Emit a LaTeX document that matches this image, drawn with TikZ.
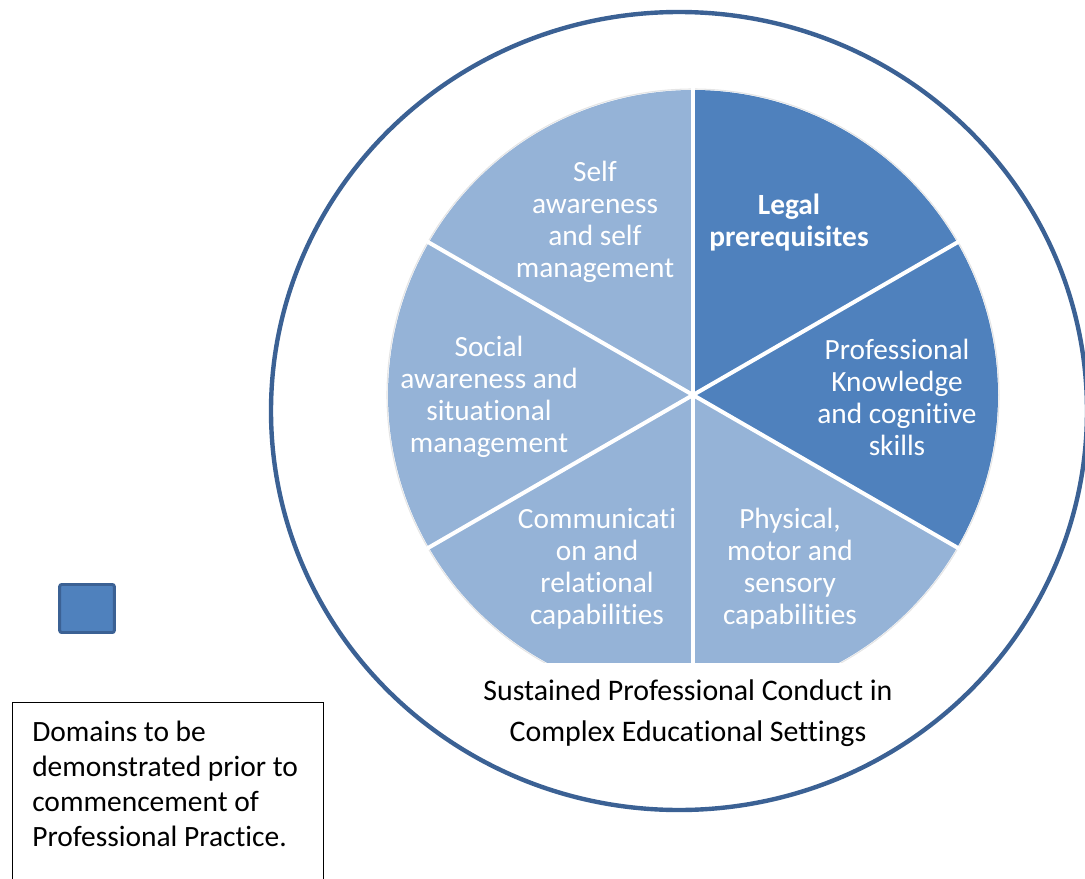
\documentclass[tikz,border=0pt]{standalone}
\usepackage{fontspec}
\setmainfont[Ligatures=NoCommon, RawFeature=-calt, RawFeature=-clig, RawFeature=-liga]{Carlito}
\usetikzlibrary{positioning}

\definecolor{darkseg}{HTML}{4F81BD}
\definecolor{lightseg}{HTML}{95B3D7}
\definecolor{ringblue}{HTML}{3B6194}
\newcommand{\segfont}{\fontsize{22}{24}\selectfont}
\newcommand{\notefont}{\fontsize{22.1}{26.2}\selectfont}

\begin{document}
\begin{tikzpicture}[x=0.75pt, y=-0.75pt,
	seglabel/.style={text=white, align=center, inner sep=0pt, font=\segfont},
	keybox/.style={draw=ringblue, fill=darkseg, line width=2.2pt, rounded corners=1.5pt,
		minimum width=41pt, minimum height=36pt}]
	\useasboundingbox (0,0) rectangle (1085,878);

	% outer ring
	\draw[ringblue, line width=3.3pt] (679,411) ellipse [x radius=408, y radius=399];

	% pie of six domains, cut off at the bottom
	\coordinate (hub) at (693,395);
	\begin{scope}
		\clip (370,70) rectangle (1020,662);
		\foreach \a/\c in {-90/darkseg, -30/darkseg, 30/lightseg, 90/lightseg, 150/lightseg, 210/lightseg}
			\fill[\c] (hub) -- +(\a:305) arc[start angle=\a, end angle=\a+60, radius=305] -- cycle;
		\draw[gray!20, line width=0.8pt] (hub) circle[radius=306];
		\foreach \a in {-90,-30,30,90,150,210}
			\draw[white, line width=3pt] (hub) -- +(\a:307);
	\end{scope}

	\node[seglabel] (self) at (595,222) {Self\\awareness\\and self\\management};
	\node[seglabel, font=\segfont\bfseries] (legal) at (789,223) {Legal\\prerequisites};
	\node[seglabel] (knowledge) at (897,397) {Professional\\Knowledge\\and cognitive\\skills};
	\node[seglabel] (physical) at (790,569) {Physical,\\motor and\\sensory\\capabilities};
	\node[seglabel] (communication) at (597,569) {Communicati\\on and\\relational\\capabilities};
	\node[seglabel] (social) at (489,397) {Social\\awareness and\\situational\\management};

	\node[align=center, font=\fontsize{22.4}{30.7}\selectfont] (conduct) at (688,713)
		{Sustained Professional Conduct in\\Complex Educational Settings};

	% legend
	\node[keybox] (key) at (87,608.5) {};
	\node[draw, line width=1pt, anchor=north west, minimum width=233pt, minimum height=150pt] (frame) at (12,702) {};
	\node[anchor=north west, align=left, inner sep=0pt, font=\notefont, below right=14pt and 15pt of frame.north west] (domains)
		{Domains to be\\demonstrated prior to\\commencement of\\Professional Practice.};
\end{tikzpicture}
\end{document}
